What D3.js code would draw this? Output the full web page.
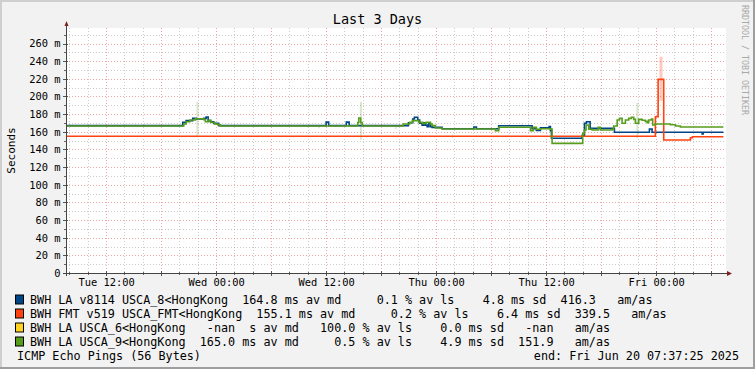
<!DOCTYPE html>
<html><head><meta charset="utf-8">
<script src="https://cdn.jsdelivr.net/npm/d3@7/dist/d3.min.js"></script>
<style>
body{margin:0;background:#f2f2f2}
svg{display:block}
text{font-family:"DejaVu Sans Mono",monospace;fill:#000}
</style></head><body><svg id="c" width="755" height="369"></svg>
<script>
// ---------- data (time = hours since Tue Jun 17 00:00) ----------
const titleText = "Last 3 Days";
const yAxisTitle = "Seconds";
const timeDomain = [7.624, 79.624];
const valueDomain = [0, 277.6];
const yTicks = [0,20,40,60,80,100,120,140,160,180,200,220,240,260];
const yTickLabels = ["0","20 m","40 m","60 m","80 m","100 m","120 m","140 m","160 m","180 m","200 m","220 m","240 m","260 m"];
const xTickHours = [12,24,36,48,60,72];
const xTickLabels = ["Tue 12:00","Wed 00:00","Wed 12:00","Thu 00:00","Thu 12:00","Fri 00:00"];

const seriesNames = ["BWH LA v8114 USCA_8<HongKong","BWH FMT v519 USCA_FMT<HongKong","BWH LA USCA_6<HongKong","BWH LA USCA_9<HongKong"];
const seriesColors = ["#004586","#ff420e","#ffd320","#579d1c"];
const legendStats = [
  "  164.8 ms av md     0.1 % av ls    4.8 ms sd  416.3   am/as",
  "  155.1 ms av md     0.2 % av ls    6.4 ms sd  339.5   am/as",
  "   -nan  s av md   100.0 % av ls    0.0 ms sd   -nan   am/as",
  "  165.0 ms av md     0.5 % av ls    4.9 ms sd  151.9   am/as"
];
const footerLeft = "ICMP Echo Pings (56 Bytes)";
const footerRight = "end: Fri Jun 20 07:37:25 2025";
const watermark = "RRDTOOL / TOBI OETIKER";

// median (seconds, in ms units) step series: [hour, value]
const blueMedian = [
 [7.62,167.0],[20.36,170.7],[20.73,172.6],[21.45,175.2],[21.85,174.5],[22.65,175.2],[22.91,176.7],
 [23.13,172.6],[23.38,171.4],[23.74,169.5],[24.28,167.0],[36.00,171.0],[36.28,167.0],[38.21,171.0],
 [38.51,167.0],[44.98,170.3],[45.45,174.5],[45.63,176.4],[45.99,173.3],[46.21,169.6],[46.47,167.5],
 [46.65,170.3],[46.83,167.5],[47.02,165.8],[47.19,169.6],[47.38,165.8],[47.56,165.0],[48.65,163.5],
 [52.12,165.5],[52.40,163.5],[54.83,166.9],[58.47,163.5],[58.94,161.5],[59.38,164.5],[60.33,165.8],
 [60.47,161.3],[60.58,152.6],[63.93,155.6],[64.18,169.6],[64.40,171.4],[64.80,163.9],[67.45,159.4],
 [71.27,163.1],[71.56,159.4],[77.02,157.5],[77.13,159.4],[79.34,159.4]
];
const redMedian = [
 [7.62,155.0],[71.92,177.0],[72.22,219.4],[72.83,150.7],[75.74,153.3],[75.96,154.4],[79.34,154.4]
];
const yellowMedian = [];
const greenMedian = [
 [7.62,166.5],[20.47,168.8],[20.73,171.4],[21.14,173.3],[21.74,174.8],[22.65,173.8],[22.83,171.4],
 [23.16,173.0],[23.43,170.5],[23.85,168.8],[24.20,167.8],[24.47,166.5],[39.45,170.5],[39.56,175.6],
 [39.77,170.5],[39.93,166.5],[44.40,168.8],[45.12,170.7],[45.41,172.6],[46.10,170.7],[46.54,169.5],
 [46.91,170.7],[47.38,168.8],[47.56,167.0],[47.92,164.3],[48.65,163.2],[54.47,161.3],[54.83,165.1],
 [58.29,161.3],[58.61,165.0],[58.94,162.8],[59.38,163.5],[60.50,163.0],[60.65,146.9],[63.99,158.2],
 [64.18,162.0],[64.36,167.7],[64.65,162.8],[65.02,162.0],[65.67,165.0],[65.92,162.0],[67.20,162.8],
 [67.37,166.5],[67.75,173.3],[68.00,175.2],[68.29,169.6],[68.65,173.3],[69.01,175.2],[69.31,176.4],
 [69.56,174.1],[69.74,169.6],[70.10,174.1],[70.47,173.0],[70.83,171.8],[71.02,170.3],[71.19,173.3],
 [71.49,174.5],[71.63,167.7],[71.92,168.8],[73.56,168.0],[74.11,166.5],[74.65,165.4],[79.34,165.4]
];
// smoke (spread) bands: [hourStart, hourEnd, low, high]
const greenSmoke = [[21.85,22.07,154,194],[39.69,39.91,151,194],[69.85,70.07,153,193],
  [35.17,35.35,164,167],[43.50,43.68,163,166],[49.70,49.88,153,157],[57.32,57.50,166,169],[62.70,62.88,146,149]];
const redSmoke = [[72.37,72.70,195,245]];

// ---------- drawing ----------
const W = 755, H = 369;
const P = {l:66, r:726, t:28, b:273};
const svg = d3.select("#c");
const x = d3.scaleLinear().domain(timeDomain).range([P.l, P.r]);
const y = d3.scaleLinear().domain(valueDomain).range([P.b, P.t]);

svg.append("rect").attr("width",W).attr("height",H).attr("fill","#f2f2f2");
svg.append("rect").attr("x",0).attr("y",0).attr("width",W).attr("height",2).attr("fill","#cfcfcf");
svg.append("rect").attr("x",0).attr("y",0).attr("width",2).attr("height",H).attr("fill","#cfcfcf");
svg.append("rect").attr("x",0).attr("y",H-2).attr("width",W).attr("height",2).attr("fill","#9e9e9e");
svg.append("rect").attr("x",W-2).attr("y",0).attr("width",2).attr("height",H).attr("fill","#9e9e9e");
svg.append("rect").attr("x",P.l).attr("y",P.t).attr("width",P.r-P.l).attr("height",P.b-P.t).attr("fill","#fff");

const grid = svg.append("g");
const minorY = d3.range(10, 280, 10).filter(v => v % 20 !== 0);
const majorY = d3.range(20, 280, 20);
const minorX = d3.range(8, 80, 2).filter(h => h % 6 !== 0);
const majorX = d3.range(12, 80, 6);
const gridMinor = "rgba(143,143,143,0.45)", gridMajor = "rgba(222,79,79,0.5)";
minorY.forEach(v => { const yy = Math.round(y(v))+0.5;
  grid.append("line").attr("x1",P.l).attr("x2",P.r).attr("y1",yy).attr("y2",yy)
    .attr("stroke",gridMinor).attr("stroke-dasharray","1,2");
  grid.append("line").attr("x1",P.l-2).attr("x2",P.l+1).attr("y1",yy).attr("y2",yy).attr("stroke","#666");
});
minorX.forEach(h => { const xx = Math.round(x(h))+0.5;
  grid.append("line").attr("x1",xx).attr("x2",xx).attr("y1",P.t).attr("y2",P.b)
    .attr("stroke",gridMinor).attr("stroke-dasharray","1,2");
  grid.append("line").attr("x1",xx).attr("x2",xx).attr("y1",P.b-1).attr("y2",P.b+2).attr("stroke","#666");
});
majorY.forEach(v => { const yy = Math.round(y(v))+0.5;
  grid.append("line").attr("x1",P.l).attr("x2",P.r).attr("y1",yy).attr("y2",yy)
    .attr("stroke",gridMajor).attr("stroke-dasharray","1,2");
  grid.append("line").attr("x1",P.l-3).attr("x2",P.l+2).attr("y1",yy).attr("y2",yy).attr("stroke","#555");
});
majorX.forEach(h => { const xx = Math.round(x(h))+0.5;
  grid.append("line").attr("x1",xx).attr("x2",xx).attr("y1",P.t).attr("y2",P.b)
    .attr("stroke",gridMajor).attr("stroke-dasharray","1,2");
  grid.append("line").attr("x1",xx).attr("x2",xx).attr("y1",P.b-2).attr("y2",P.b+3).attr("stroke","#555");
});

// smoke
const smoke = svg.append("g");
greenSmoke.forEach(s => smoke.append("rect").attr("x",x(s[0])).attr("width",x(s[1])-x(s[0]))
  .attr("y",y(s[3])).attr("height",y(s[2])-y(s[3])).attr("fill",seriesColors[3]).attr("opacity",0.22));
redSmoke.forEach(s => smoke.append("rect").attr("x",x(s[0])).attr("width",x(s[1])-x(s[0]))
  .attr("y",y(s[3])).attr("height",y(s[2])-y(s[3])).attr("fill",seriesColors[1]).attr("opacity",0.28));

// lines
const line = d3.line().x(d => x(d[0])).y(d => y(d[1])).curve(d3.curveStepAfter);
[blueMedian, redMedian, yellowMedian, greenMedian].forEach((data, i) => {
  if (!data.length) return;
  svg.append("path").datum(data).attr("d", line).attr("fill","none")
    .attr("stroke", seriesColors[i]).attr("stroke-width",1.6);
});

// axes lines & arrows
svg.append("line").attr("x1",P.l+0.5).attr("x2",P.l+0.5).attr("y1",P.b+3).attr("y2",24).attr("stroke","#444");
svg.append("line").attr("x1",P.l-3).attr("x2",729).attr("y1",P.b+0.5).attr("y2",P.b+0.5).attr("stroke","#444");
svg.append("path").attr("d",`M${P.l-1.5},26 L${P.l+2.5},26 L${P.l+0.5},21 Z`).attr("fill","#801f1f");
svg.append("path").attr("d",`M727,${P.b-2} L727,${P.b+3} L732,${P.b+0.5} Z`).attr("fill","#801f1f");

// axis labels via d3 axes
const yAxis = d3.axisLeft(y).tickValues(yTicks).tickFormat((d,i) => yTickLabels[i]).tickSize(0).tickPadding(5.5);
const gy = svg.append("g").attr("transform",`translate(${P.l},0)`).call(yAxis);
gy.select(".domain").remove();
gy.attr("font-family","DejaVu Sans Mono").attr("font-size","10.4px");
gy.selectAll("text").attr("fill","#000");

const xAxis = d3.axisBottom(x).tickValues(xTickHours).tickFormat((d,i) => xTickLabels[i]).tickSize(0).tickPadding(5.5);
const gx = svg.append("g").attr("transform",`translate(0,${P.b})`).call(xAxis);
gx.select(".domain").remove();
gx.attr("font-family","DejaVu Sans Mono").attr("font-size","10.4px");
gx.selectAll("text").attr("fill","#000");

// title etc
svg.append("text").attr("x",377.5).attr("y",24).attr("text-anchor","middle").attr("font-size","13.5px").text(titleText);
svg.append("text").attr("transform","translate(14.5,150.5) rotate(-90)").attr("text-anchor","middle")
  .attr("font-size","11px").text(yAxisTitle);
svg.append("text").attr("transform","translate(742,5) rotate(90)").attr("font-size","8.3px")
  .style("fill","#a8a8a8").text(watermark);

// legend
const lg = svg.append("g");
seriesNames.forEach((name, i) => {
  const cy = 299.5 + i*14;
  lg.append("rect").attr("x",15.5).attr("y",cy-4.5).attr("width",8).attr("height",9)
    .attr("fill",seriesColors[i]).attr("stroke","#000").attr("stroke-width",1);
  lg.append("text").attr("x",30).attr("y",cy+4).attr("font-size","11.75px")
    .attr("xml:space","preserve").style("white-space","pre").text(name + legendStats[i]);
});
lg.append("text").attr("x",17).attr("y",299.5+4*14+4).attr("font-size","11.75px")
  .style("white-space","pre").text(footerLeft);
lg.append("text").attr("x",739).attr("y",299.5+4*14+4).attr("font-size","11.75px").attr("text-anchor","end")
  .style("white-space","pre").text(footerRight);
</script></body></html>
